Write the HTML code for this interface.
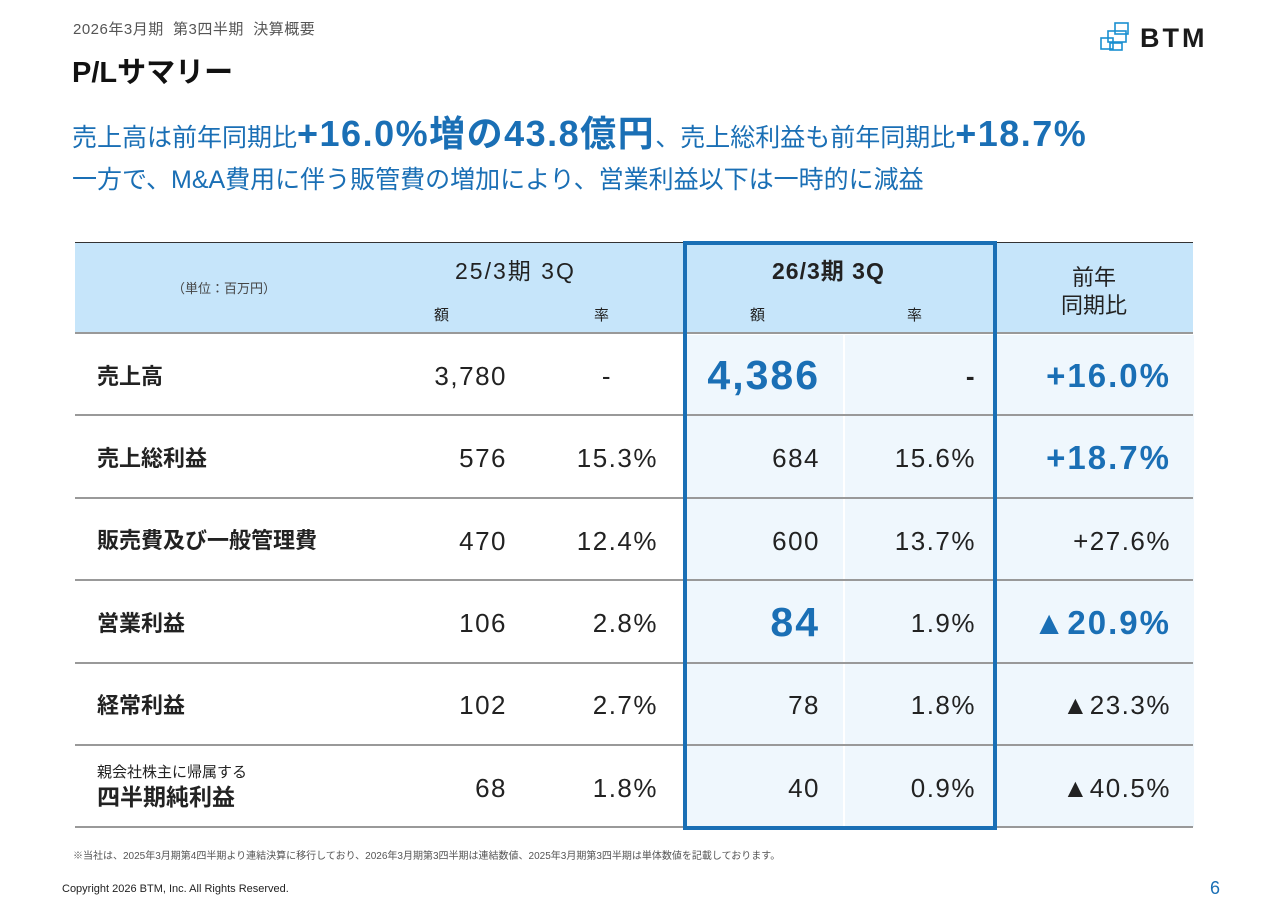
<!DOCTYPE html>
<html><head><meta charset="utf-8"><style>
body{margin:0;width:1280px;height:905px;background:#fff;position:relative;overflow:hidden;font-family:"Liberation Sans","Noto Sans CJK JP",sans-serif;color:#222}
.a{position:absolute;white-space:nowrap;line-height:1}
.blue{color:#1a6fb5}
.hl{position:absolute;background:#eff7fd}
.hd{position:absolute;background:#c6e5fa}
.line{position:absolute;left:75px;width:1118px;height:2px;background:#999}
.num{position:absolute;text-align:right;font-size:26px;width:250px;line-height:1;letter-spacing:1.5px;white-space:nowrap}
.lbl{position:absolute;left:97px;font-size:22px;font-weight:bold;line-height:1;white-space:nowrap}
</style></head><body>
<div class="a" style="left:73px;top:22px;font-size:15px;color:#555;letter-spacing:0.5px">2026年3月期&nbsp; 第3四半期&nbsp; 決算概要</div>
<div class="a" style="left:72px;top:59px;font-size:29px;font-weight:bold;color:#111">P/Lサマリー</div>
<div class="a" style="left:1100px;top:20px">
<svg width="125" height="34"><g fill="none" stroke="#1a8fd0" stroke-width="1.6"><rect x="15" y="3" width="13" height="11"/><rect x="8" y="11" width="18" height="11"/><rect x="1" y="18" width="12" height="11"/><rect x="10" y="23" width="12" height="7"/></g>
<text x="40" y="27" font-family="Liberation Sans" font-weight="bold" font-size="27" letter-spacing="3" fill="#1a1a1a">BTM</text></svg></div>
<div class="a blue" style="left:72px;top:116px;font-size:25px;line-height:36px">売上高は前年同期比<span style="font-size:36px;font-weight:bold;letter-spacing:1.5px">+16.0%増の43.8億円</span>、売上総利益も前年同期比<span style="font-size:36px;font-weight:bold;letter-spacing:1.5px">+18.7%</span></div>
<div class="a blue" style="left:72px;top:168px;font-size:25px">一方で、M&amp;A費用に伴う販管費の増加により、営業利益以下は一時的に減益</div>

<div>
<div class="hd" style="left:75px;top:243px;width:1118px;height:90px"></div>
<div class="a" style="left:75px;top:242px;width:1118px;height:1px;background:#333"></div>
<div class="hl" style="left:686px;top:335px;width:508px;height:492px"></div>
<div class="a" style="left:843px;top:335px;width:2px;height:492px;background:#fff"></div>
<div class="line" style="top:332px"></div>
<div class="line" style="top:414px"></div>
<div class="line" style="top:497px"></div>
<div class="line" style="top:579px"></div>
<div class="line" style="top:662px"></div>
<div class="line" style="top:744px"></div>
<div class="line" style="top:826px"></div>
<div class="a" style="left:683px;top:241px;width:306px;height:581px;border:4px solid #1a6fb5"></div>

<div class="a" style="left:172px;top:282px;font-size:13px;color:#444">（単位：百万円）</div>
<div class="a" style="left:455px;top:260px;font-size:23px;letter-spacing:2px">25/3期 3Q</div>
<div class="a" style="left:434px;top:308px;font-size:15px">額</div><div class="a" style="left:594px;top:308px;font-size:15px">率</div>
<div class="a" style="left:772px;top:260px;font-size:23px;font-weight:bold;letter-spacing:1px">26/3期 3Q</div>
<div class="a" style="left:750px;top:308px;font-size:15px">額</div><div class="a" style="left:907px;top:308px;font-size:15px">率</div>
<div class="a" style="left:1061px;top:264px;font-size:22px;text-align:center;line-height:28px">前年<br>同期比</div>

<div class="lbl" style="top:366px">売上高</div>
<div class="lbl" style="top:448px">売上総利益</div>
<div class="lbl" style="top:530px">販売費及び一般管理費</div>
<div class="lbl" style="top:613px">営業利益</div>
<div class="lbl" style="top:695px">経常利益</div>
<div class="a" style="left:97px;top:765px;font-size:15px">親会社株主に帰属する</div>
<div class="lbl" style="top:786px;font-size:23px">四半期純利益</div>
<div id="rows"></div>
</div>

<div class="a" style="left:73px;top:852px;font-size:10px;color:#555">※当社は、2025年3月期第4四半期より連結決算に移行しており、2026年3月期第3四半期は連結数値、2025年3月期第3四半期は単体数値を記載しております。</div>
<div class="a" style="left:62px;top:884px;font-size:11px;color:#222">Copyright 2026 BTM, Inc. All Rights Reserved.</div>
<div class="a blue" style="left:1210px;top:879px;font-size:18px">6</div>
<script>
const amt25=["3,780","576","470","106","102","68"];
const rate25=["-","15.3%","12.4%","2.8%","2.7%","1.8%"];
const amt26=["4,386","684","600","84","78","40"];
const rate26=["-","15.6%","13.7%","1.9%","1.8%","0.9%"];
const yoy=["+16.0%","+18.7%","+27.6%","▲20.9%","▲23.3%","▲40.5%"];
const big26=[true,false,false,true,false,false];
const bigYoy=[true,true,false,true,false,false];
const rowsEl=document.getElementById('rows');
function cell(txt,right,top,style){const d=document.createElement('div');d.className='num';d.style.left=(right-250)+'px';d.style.top=top+'px';d.textContent=txt;if(style)d.style.cssText+=style;rowsEl.appendChild(d);return d;}
for(let i=0;i<amt25.length;i++){
 const c=377+i*82.3;
 let e=cell(amt25[i],507,c-14);
 
 
 e=cell(rate25[i],i==0?612:658,c-14);
 
 
 e=big26[i]?cell(amt26[i],820,c-22,'font-size:41px;font-weight:bold;color:#1a6fb5;letter-spacing:2px'):cell(amt26[i],820,c-14);
 
 
 e=cell(rate26[i],976,c-14,i==0?'font-weight:bold':'');
 
 
 e=bigYoy[i]?cell(yoy[i],1171,c-18,'font-size:33px;font-weight:bold;color:#1a6fb5;letter-spacing:2px'):cell(yoy[i],1171,c-14);
 
 
}
</script>
</body></html>
